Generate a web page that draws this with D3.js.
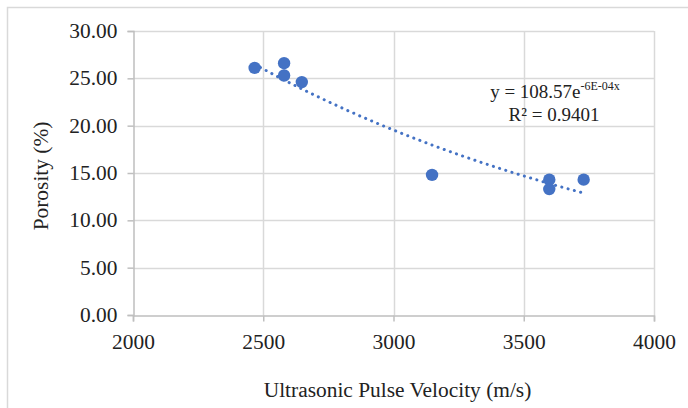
<!DOCTYPE html>
<html>
<head>
<meta charset="utf-8">
<script src="https://cdn.jsdelivr.net/npm/d3@7"></script>
<style>
  html, body { margin: 0; padding: 0; background: #fff; }
  svg { display: block; }
  svg text { font-family: "Liberation Serif", "Times New Roman", serif !important; fill: #222; }
</style>
</head>
<body>
<svg id="chart" width="688" height="408" font-family="Liberation Serif"></svg>
<script>
// ---- data ----
const velocity = [2467, 2580, 2580, 2648, 3148, 3598, 3598, 3730];
const porosity = [26.1, 26.6, 25.3, 24.6, 14.8, 14.3, 13.3, 14.3];
const xTicks = [2000, 2500, 3000, 3500, 4000];
const yTicks = [0, 5, 10, 15, 20, 25, 30];
const xTitle = "Ultrasonic Pulse Velocity (m/s)";
const yTitle = "Porosity (%)";
const eqMain = "y = 108.57e";
const eqSup = "-6E-04x";
const r2Text = "R² = 0.9401";

const svg = d3.select("#chart");
const W = 688, H = 408;
const m = { left: 133, right: 654, top: 31, bottom: 315 };
const blue = "#4472C4";
const grid = "#d9d9d9";
const axisCol = "#bfbfbf";
const sx = 1.07;
const FF = "Liberation Serif";

// outer border
svg.append("rect").attr("x", 7.5).attr("y", 7.5).attr("width", W).attr("height", H)
  .attr("fill", "none").attr("stroke", "#d9d9d9").attr("stroke-width", 1.5);

const x = d3.scaleLinear().domain([2000, 4000]).range([m.left, m.right]);
const y = d3.scaleLinear().domain([0, 30]).range([m.bottom, m.top]);

// gridlines
svg.append("g").selectAll("line.h").data(yTicks.filter(d => d > 0)).join("line")
  .attr("x1", m.left).attr("x2", m.right)
  .attr("y1", d => Math.round(y(d)) + 0.5).attr("y2", d => Math.round(y(d)) + 0.5)
  .attr("stroke", grid).attr("stroke-width", 1.5);
svg.append("g").selectAll("line.v").data(xTicks.filter(d => d > 2000)).join("line")
  .attr("y1", m.top).attr("y2", m.bottom)
  .attr("x1", d => Math.round(x(d)) + 0.5).attr("x2", d => Math.round(x(d)) + 0.5)
  .attr("stroke", grid).attr("stroke-width", 1.5);

// axes
const xAxis = d3.axisBottom(x).tickValues(xTicks).tickSize(6).tickFormat(d3.format("d"));
const gx = svg.append("g").attr("transform", `translate(0,${m.bottom + 0.5})`).call(xAxis)
  .attr("font-family", FF).attr("font-size", 20);
gx.select(".domain").attr("stroke", axisCol).attr("stroke-width", 1.5);
gx.selectAll(".tick line").attr("stroke", axisCol).attr("stroke-width", 1.5);
gx.selectAll(".tick text").attr("font-size", 20).attr("font-family", FF).attr("fill", "#222")
  .attr("y", 0).attr("dy", 0)
  .attr("transform", `translate(0,33) scale(${sx},1)`);

const yAxis = d3.axisLeft(y).tickValues(yTicks).tickSize(6).tickFormat(d3.format(".2f"));
const gy = svg.append("g").attr("transform", `translate(${m.left + 0.5},0)`).call(yAxis)
  .attr("font-family", FF).attr("font-size", 20);
gy.select(".domain").attr("stroke", axisCol).attr("stroke-width", 1.5);
gy.selectAll(".tick line").attr("stroke", axisCol).attr("stroke-width", 1.5);
gy.selectAll(".tick text").attr("font-size", 20).attr("font-family", FF).attr("fill", "#222")
  .attr("x", 0).attr("dy", 0)
  .attr("transform", `translate(-16,6.5) scale(${sx},1)`);

// exponential trendline (least squares on ln y)
const n = velocity.length;
const ly = porosity.map(v => Math.log(v));
const mx = d3.mean(velocity), my = d3.mean(ly);
let sxy = 0, sxx = 0;
for (let i = 0; i < n; i++) { sxy += (velocity[i] - mx) * (ly[i] - my); sxx += (velocity[i] - mx) ** 2; }
const b = sxy / sxx, a = Math.exp(my - b * mx);
const [xmin, xmax] = d3.extent(velocity);
const trend = d3.range(0, 101).map(i => { const xv = xmin + (xmax - xmin) * i / 100; return [xv, a * Math.exp(b * xv)]; });
svg.append("path").datum(trend)
  .attr("d", d3.line().x(d => x(d[0])).y(d => y(d[1])))
  .attr("fill", "none").attr("stroke", blue).attr("stroke-width", 3)
  .attr("stroke-linecap", "round").attr("stroke-dasharray", "0.1 6.4");

// points
svg.append("g").selectAll("circle").data(velocity.map((v, i) => [v, porosity[i]])).join("circle")
  .attr("cx", d => x(d[0])).attr("cy", d => y(d[1])).attr("r", 6.2)
  .attr("fill", blue);

// equation
const eq = svg.append("text").attr("font-size", 19).attr("font-family", FF)
  .attr("transform", `translate(555,98)`).attr("text-anchor", "middle");
eq.append("tspan").text(eqMain);
eq.append("tspan").attr("font-size", 12).attr("dy", -8).text(eqSup);
svg.append("text").attr("font-size", 19).attr("font-family", FF)
  .attr("transform", `translate(554,121)`).attr("text-anchor", "middle")
  .text(r2Text);

// titles
svg.append("text").attr("font-size", 20).attr("font-family", FF).attr("text-anchor", "middle")
  .attr("transform", `translate(${(m.left + m.right) / 2 + 4},397) scale(${sx},1)`).text(xTitle);
svg.append("text").attr("font-size", 20).attr("font-family", FF).attr("text-anchor", "middle")
  .attr("transform", `translate(48,${(m.top + m.bottom) / 2 + 3}) rotate(-90) scale(${sx},1)`).text(yTitle);
</script>
</body>
</html>
